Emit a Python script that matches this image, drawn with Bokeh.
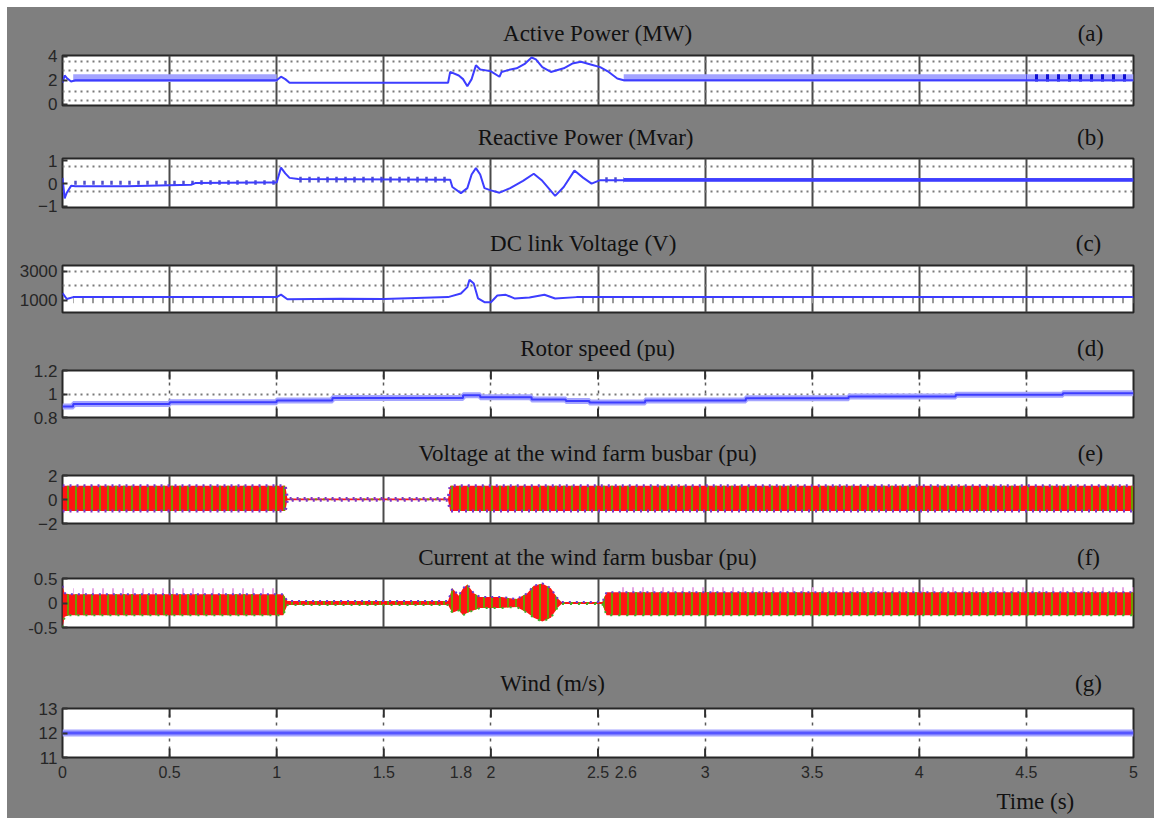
from bokeh.plotting import figure
from bokeh.models import Range1d, FixedTicker, LinearAxis
from bokeh.layouts import column
from bokeh.embed import file_html
from bokeh.resources import INLINE

# ---------------- data ----------------
x_ticks = [0, 0.5, 1, 1.5, 2, 2.5, 3, 3.5, 4, 4.5, 5]
x_tick_labels = ["0", "0.5", "1", "1.5", "2", "2.5", "3", "3.5", "4", "4.5", "5"]
marked_times = [1.86, 2.63]
marked_labels = ["1.8", "2.6"]
x_title = "Time (s)"

titles = ["Active Power (MW)", "Reactive Power (Mvar)", "DC link Voltage (V)",
          "Rotor speed (pu)", "Voltage at the wind farm busbar (pu)",
          "Current at the wind farm busbar (pu)", "Wind (m/s)"]
tags = ["(a)", "(b)", "(c)", "(d)", "(e)", "(f)", "(g)"]

# (a) active power, MW
p_t = [0, 0.01, 0.02, 0.04, 0.06, 1.0, 1.02, 1.04, 1.06, 1.80, 1.81, 1.85, 1.87, 1.89, 1.91,
       1.93, 1.95, 1.97, 2.00, 2.04, 2.05, 2.08, 2.12, 2.16, 2.19, 2.21, 2.24, 2.28, 2.34,
       2.38, 2.42, 2.47, 2.51, 2.55, 2.59, 2.62, 5.0]
p_mw = [1.8, 2.4, 2.2, 1.9, 2.0, 2.0, 2.3, 2.1, 1.8, 1.8, 2.7, 2.4, 2.1, 1.5, 2.1,
        3.25, 2.9, 2.85, 2.75, 2.3, 2.7, 2.85, 3.0, 3.4, 3.9, 3.75, 3.1, 2.7, 3.0,
        3.4, 3.55, 3.3, 3.1, 2.7, 2.15, 2.0, 2.0]
p_band_start = [0.05, 2.62]
p_band_end = [1.0, 5.0]
p_band_lo = [1.85, 1.9]
p_band_hi = [2.5, 2.5]
p_ripple_start = [4.5]
p_ripple_end = [5.0]
p_ripple_lo = [1.9]
p_ripple_hi = [2.5]
p_grid = [0.35, 1.1, 2.85, 3.6]
p_yticks = [0, 2, 4]

# (b) reactive power, Mvar
q_t = [0, 0.01, 0.02, 0.04, 0.06, 0.3, 0.6, 0.62, 1.0, 1.02, 1.04, 1.06, 1.1, 1.81,
       1.82, 1.86, 1.89, 1.91, 1.93, 1.95, 1.97, 2.0, 2.04, 2.09, 2.15, 2.2, 2.24, 2.3,
       2.34, 2.39, 2.43, 2.47, 2.51, 5.0]
q_mvar = [0.25, -0.65, -0.4, -0.1, -0.12, -0.12, -0.05, 0.02, 0.05, 0.7, 0.45, 0.25, 0.2, 0.17,
          -0.15, -0.42, -0.2, 0.4, 0.68, 0.4, -0.2, -0.3, -0.4, -0.2, 0.12, 0.43, 0.12, -0.54,
          -0.15, 0.57, 0.26, 0.0, 0.15, 0.15]
q_band_start = [2.62]
q_band_end = [5.0]
q_band_lo = [0.08]
q_band_hi = [0.24]
q_ripple_start = [0.05, 0.62, 1.1, 2.51]
q_ripple_end = [0.62, 1.0, 1.81, 2.62]
q_ripple_lo = [-0.05, -0.05, 0.05, 0.05]
q_ripple_hi = [0.12, 0.15, 0.3, 0.28]
q_grid = [-0.35, 0.75]
q_yticks = [-1, 0, 1]

# (c) DC link voltage, V
dc_t = [0, 0.02, 0.05, 1.0, 1.02, 1.05, 1.3, 1.5, 1.8, 1.86, 1.89, 1.90, 1.92, 1.94, 1.97,
        2.0, 2.03, 2.07, 2.11, 2.18, 2.25, 2.3, 2.4, 5.0]
dc_v = [1500, 1100, 1230, 1230, 1400, 1080, 1120, 1100, 1230, 1480, 1920, 2430, 2170, 1140, 880,
        880, 1340, 1390, 1140, 1200, 1390, 1140, 1230, 1230]
dc_ripple_start = [0.05, 1.05, 2.4]
dc_ripple_end = [1.0, 1.8, 5.0]
dc_ripple_lo = [800, 850, 800]
dc_ripple_hi = [1180, 1050, 1180]
dc_grid = [2000, 3000]
dc_yticks = [1000, 3000]

# (d) rotor speed, pu
rot_t = [0, 0.05, 0.5, 1.0, 1.26, 1.87, 1.95, 2.19, 2.35, 2.46, 2.72, 3.19, 3.67, 4.17, 4.67, 5.0]
rot_pu = [0.894, 0.915, 0.93, 0.945, 0.965, 0.99, 0.973, 0.953, 0.94, 0.928, 0.945, 0.964,
          0.979, 0.993, 1.007, 1.007]
rot_grid = [1.0]
rot_yticks = [0.8, 1, 1.2]
rot_ytick_labels = ["0.8", "1", "1.2"]

# (e) busbar voltage envelope, pu
volt_t = [0, 1.04, 1.05, 1.80, 1.81, 5.0]
volt_hi = [1.15, 1.15, 0.08, 0.08, 1.15, 1.15]
volt_lo = [-0.95, -0.95, -0.06, -0.06, -0.95, -0.95]
volt_yticks = [-2, 0, 2]

# (f) busbar current envelope, pu
cur_t = [0, 0.01, 0.03, 1.03, 1.05, 1.80, 1.82, 1.85, 1.87, 1.89, 1.92, 1.95, 2.05, 2.12,
         2.17, 2.20, 2.24, 2.28, 2.31, 2.33, 2.52, 2.54, 5.0]
cur_hi = [0.35, 0.2, 0.18, 0.18, 0.04, 0.04, 0.3, 0.15, 0.3, 0.38, 0.2, 0.12, 0.12, 0.08,
          0.2, 0.35, 0.4, 0.3, 0.1, 0.02, 0.02, 0.22, 0.22]
cur_lo = [-0.5, -0.28, -0.25, -0.25, -0.04, -0.04, -0.2, -0.15, -0.25, -0.2, -0.15, -0.1, -0.1, -0.08,
          -0.2, -0.3, -0.38, -0.3, -0.1, -0.02, -0.02, -0.25, -0.25]
cur_spike_start = [0.05, 2.6]
cur_spike_end = [1.0, 5.0]
cur_spike_lo = [0.17, 0.21]
cur_spike_hi = [0.3, 0.32]
cur_yticks = [-0.5, 0, 0.5]
cur_ytick_labels = ["-0.5", "0", "0.5"]

# (g) wind speed, m/s
wind_t = [0, 5]
wind_ms = [12, 12]
wind_yticks = [11, 12, 13]

# ---------------- layout (page pixels) ----------------
GRAY = "#7f7f7f"
BLUE = "#3d3dff"
LIGHT_BLUE = "#a4a4ff"
PAGE_LEFT = 7
FRAME_L, FRAME_R = 62, 1133
FIG_W = 1147
SERIF = "Liberation Serif"
SANS = "Liberation Sans"
TICK_LEN = 9

cfgs = [
    dict(fig_top=7, height=113, frame_top=55, fh=50, yr=(-0.1, 4.07), title_y=33, title_x=597, tag_x=1090),
    dict(fig_top=120, height=106, frame_top=158, fh=49, yr=(-1.05, 1.1), title_y=137, title_x=585, tag_x=1090),
    dict(fig_top=226, height=104, frame_top=265, fh=47, yr=(170, 3410), title_y=243, title_x=583, tag_x=1088),
    dict(fig_top=330, height=105, frame_top=370, fh=47, yr=(0.8, 1.2), title_y=348, title_x=597, tag_x=1090),
    dict(fig_top=435, height=105, frame_top=475, fh=48, yr=(-2, 2), title_y=453, title_x=587, tag_x=1090),
    dict(fig_top=540, height=110, frame_top=578, fh=49, yr=(-0.5, 0.5), title_y=557, title_x=587, tag_x=1088),
    dict(fig_top=650, height=168, frame_top=708, fh=49, yr=(11, 13), title_y=683, title_x=552, tag_x=1088),
]


def xat(px):
    return round((px - FRAME_L) * 5.0 / (FRAME_R - FRAME_L), 3)


def make_fig(cfg, yticks, ylabels=None, solid_vgrid=True, hgrid=None):
    top = cfg["frame_top"] - cfg["fig_top"]
    bottom = cfg["height"] - top - cfg["fh"]
    p = figure(width=FIG_W, height=cfg["height"], x_range=Range1d(0, 5),
               y_range=Range1d(*cfg["yr"]), output_backend="svg", toolbar_location=None,
               min_border_left=FRAME_L - PAGE_LEFT, min_border_right=FIG_W - (FRAME_R - PAGE_LEFT),
               min_border_top=top, min_border_bottom=bottom,
               background_fill_color="white", border_fill_color=GRAY,
               outline_line_color="#262626", outline_line_width=2)
    bottom_axis = p.below[0]
    # y axis
    ya = p.left[0]
    ya.ticker = FixedTicker(ticks=yticks)
    if ylabels:
        ya.major_label_overrides = {t: l for t, l in zip(yticks, ylabels)}
    ya.axis_line_color = None
    ya.major_tick_in = 5
    ya.major_tick_out = 0
    ya.major_tick_line_color = "#333333"
    ya.major_tick_line_width = 2
    ya.minor_tick_line_color = None
    ya.major_label_standoff = 5
    ya.major_label_text_font = SANS
    ya.major_label_text_font_size = "17px"
    ya.major_label_text_color = "#262626"
    # grids
    p.xgrid.ticker = FixedTicker(ticks=x_ticks[1:-1])
    if solid_vgrid:
        p.xgrid.grid_line_color = "#4a4a4a"
        p.xgrid.grid_line_width = 2
    else:
        p.xgrid.grid_line_color = "#5a5a5a"
        p.xgrid.grid_line_width = 1.5
        p.xgrid.grid_line_dash = "3 5"
        # inward tick marks at top and bottom of the frame
        y0, y1 = cfg["yr"]
        d = TICK_LEN * (y1 - y0) / cfg["fh"]
        inner = x_ticks[1:-1]
        p.segment(x0=inner, x1=inner, y0=[y1] * len(inner), y1=[y1 - d] * len(inner),
                  line_color="#303030", line_width=2)
        p.segment(x0=inner, x1=inner, y0=[y0] * len(inner), y1=[y0 + d] * len(inner),
                  line_color="#303030", line_width=2)
    if hgrid:
        p.ygrid.ticker = FixedTicker(ticks=hgrid)
        p.ygrid.grid_line_color = "#7a7a7a"
        p.ygrid.grid_line_width = 2
        p.ygrid.grid_line_dash = "2 4"
    else:
        p.ygrid.grid_line_color = None
    # title line: panel title and panel tag as labels of a tick-less top axis
    i = cfgs.index(cfg)
    xt, xg = xat(cfg["title_x"]), xat(cfg["tag_x"])
    standoff = max(cfg["frame_top"] - cfg["title_y"] - 12, 0)
    tax = LinearAxis(ticker=FixedTicker(ticks=[xt, xg]),
                     major_label_overrides={xt: titles[i], xg: tags[i]},
                     axis_line_color=None, major_tick_line_color=None, major_tick_in=0,
                     major_tick_out=0, minor_tick_line_color=None,
                     major_label_text_font=SERIF, major_label_text_font_size="23px",
                     major_label_text_color="#111111", major_label_standoff=standoff)
    p.add_layout(tax, "above")
    return p, bottom_axis


figs = []

# (a)
c = cfgs[0]
pa, ba = make_fig(c, p_yticks, hgrid=p_grid)
ba.visible = False
pa.quad(left=p_band_start, right=p_band_end, bottom=p_band_lo, top=p_band_hi,
        fill_color=LIGHT_BLUE, line_color=None)
pa.quad(left=p_ripple_start, right=p_ripple_end, bottom=p_ripple_lo, top=p_ripple_hi,
        fill_alpha=0, line_color=None, hatch_pattern="vertical_line", hatch_color="#1010d0",
        hatch_scale=11, hatch_weight=3)
pa.line(p_t, p_mw, line_color=BLUE, line_width=2)
figs.append(pa)

# (b)
c = cfgs[1]
pb, ba = make_fig(c, q_yticks, hgrid=q_grid)
ba.visible = False
pb.quad(left=q_ripple_start, right=q_ripple_end, bottom=q_ripple_lo, top=q_ripple_hi,
        fill_alpha=0, line_color=None, hatch_pattern="vertical_line", hatch_color="#5050c8",
        hatch_scale=9, hatch_weight=2.5)
pb.quad(left=q_band_start, right=q_band_end, bottom=q_band_lo, top=q_band_hi,
        fill_color="#4646ff", line_color=None)
pb.line(q_t, q_mvar, line_color=BLUE, line_width=2)
figs.append(pb)

# (c)
c = cfgs[2]
pc, ba = make_fig(c, dc_yticks, hgrid=dc_grid)
ba.visible = False
pc.quad(left=dc_ripple_start, right=dc_ripple_end, bottom=dc_ripple_lo, top=dc_ripple_hi,
        fill_alpha=0, line_color=None, hatch_pattern="vertical_line", hatch_color="#9a9a9a",
        hatch_scale=10, hatch_weight=2)
pc.line(dc_t, dc_v, line_color=BLUE, line_width=2)
figs.append(pc)

# (d)
c = cfgs[3]
pd_, ba = make_fig(c, rot_yticks, ylabels=rot_ytick_labels, solid_vgrid=False, hgrid=rot_grid)
ba.visible = False
pd_.step(rot_t, rot_pu, mode="after", line_color=LIGHT_BLUE, line_width=6)
pd_.step(rot_t, rot_pu, mode="after", line_color=BLUE, line_width=2)
figs.append(pd_)

# (e)
c = cfgs[4]
pe, ba = make_fig(c, volt_yticks)
ba.visible = False
pe.varea(x=volt_t, y1=volt_lo, y2=volt_hi, fill_color="#ff1414",
         hatch_pattern="vertical_line", hatch_color="#6f9a00", hatch_scale=8, hatch_weight=2)
pe.line(volt_t, volt_hi, line_color="#7b35c8", line_width=3, line_dash="2 5")
pe.line(volt_t, volt_lo, line_color="#7b35c8", line_width=3, line_dash="2 5")
figs.append(pe)

# (f)
c = cfgs[5]
pf, ba = make_fig(c, cur_yticks, ylabels=cur_ytick_labels)
ba.visible = False
pf.quad(left=cur_spike_start, right=cur_spike_end, bottom=cur_spike_lo, top=cur_spike_hi,
        fill_alpha=0, line_color=None, hatch_pattern="vertical_line", hatch_color="#e6a6e6",
        hatch_scale=10, hatch_weight=2)
pf.varea(x=cur_t, y1=cur_lo, y2=cur_hi, fill_color="#ff1414",
         hatch_pattern="vertical_line", hatch_color="#6f9a00", hatch_scale=8, hatch_weight=2)
pf.line(cur_t, cur_hi, line_color="#6a3ad0", line_width=2, line_dash="2 5")
pf.line(cur_t, cur_lo, line_color="#3fae2a", line_width=2, line_dash="2 6")
figs.append(pf)

# (g)
c = cfgs[6]
pg, xa = make_fig(c, wind_yticks, solid_vgrid=False)
pg.line(wind_t, wind_ms, line_color=LIGHT_BLUE, line_width=7)
pg.line(wind_t, wind_ms, line_color="#5555ff", line_width=3)
all_ticks = x_ticks + marked_times
xa.ticker = FixedTicker(ticks=all_ticks)
xa.major_label_overrides = {t: l for t, l in zip(all_ticks, x_tick_labels + marked_labels)}
xa.axis_line_color = None
xa.major_tick_line_color = None
xa.major_tick_in = 0
xa.major_tick_out = 0
xa.minor_tick_line_color = None
xa.major_label_text_font = SANS
xa.major_label_text_font_size = "16px"
xa.major_label_text_color = "#262626"
xa.major_label_standoff = 8
xt = xat(1035)
time_ax = LinearAxis(ticker=FixedTicker(ticks=[xt]), major_label_overrides={xt: x_title},
                     axis_line_color=None, major_tick_line_color=None, major_tick_in=0,
                     major_tick_out=0, minor_tick_line_color=None,
                     major_label_text_font=SERIF, major_label_text_font_size="23px",
                     major_label_text_color="#111111", major_label_standoff=8)
pg.add_layout(time_ax, "below")
figs.append(pg)

layout = column(*figs, spacing=0, margin=(7, 0, 0, PAGE_LEFT),
                styles={"background-color": GRAY})

open("out.html", "w").write(file_html(layout, INLINE))
